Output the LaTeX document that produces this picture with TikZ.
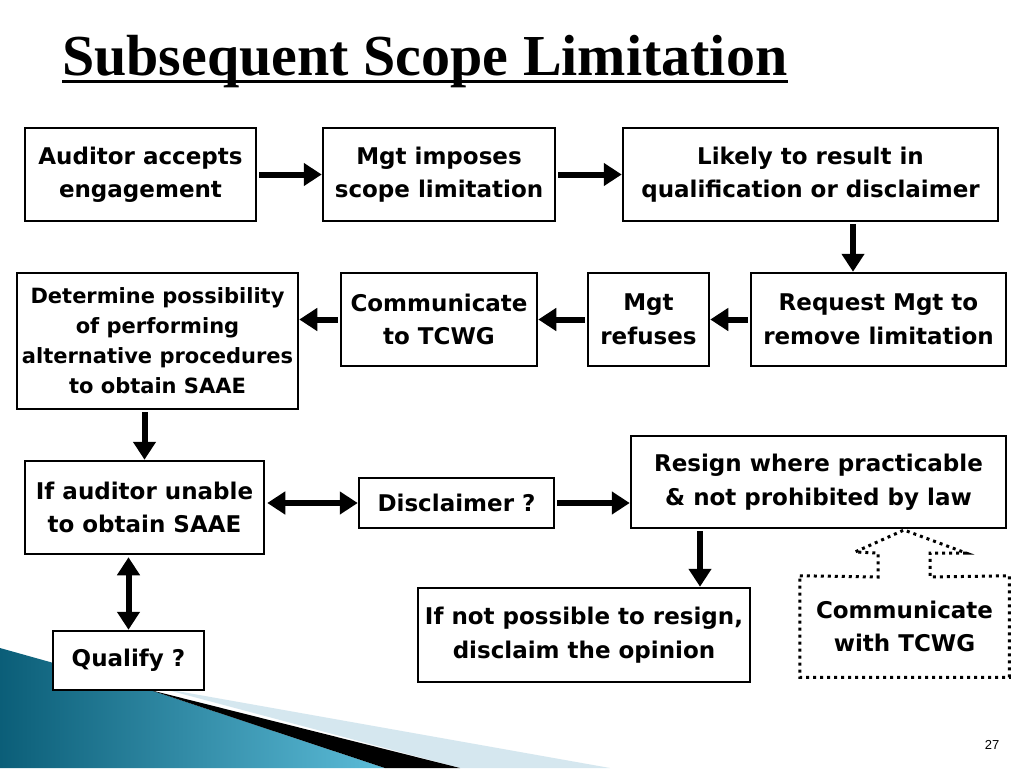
\documentclass[tikz,border=0pt]{standalone}
\usepackage{fontspec}
\setmainfont{DejaVu Sans}
\newfontfamily\titlefont{Liberation Serif}
\newfontfamily\pagefont{Liberation Sans}
\usetikzlibrary{arrows.meta}
\definecolor{tealdark}{HTML}{0B5E78}
\definecolor{teallight}{HTML}{5CBCD8}
\definecolor{paleblue}{HTML}{D5E7EF}
\tikzset{
  box/.style={draw, line width=2.5pt, fill=white, align=center, inner sep=0pt, font=\bfseries\fontsize{23}{33.5}\selectfont},
  dotbox/.style={line width=3pt, dash pattern=on 3pt off 4pt},
  flow/.style={line width=6pt, shorten <=2pt, -{Triangle[length=18pt,width=22pt]}},
  flowboth/.style={line width=6pt, shorten <=2pt, {Triangle[length=18pt,width=22pt]}-{Triangle[length=18pt,width=22pt]}},
}
\newcommand{\flowbox}[6]{\node[box, minimum width=#4pt, minimum height=#5pt] (#1) at (#2,#3) {#6};}
\newcommand{\link}[2]{\draw[flow] (#1) -- (#2);}
\newcommand{\linkboth}[2]{\draw[flowboth] (#1) -- (#2);}

\begin{document}
\begin{tikzpicture}[x=1pt,y=-1pt]
    \useasboundingbox[fill=white] (0,0) rectangle (1024,768);
    % corner swoosh
    \shade[left color=tealdark, right color=teallight] (0,648) -- (150,690) -- (385,768) -- (0,768) -- cycle;
    \fill[paleblue] (160,688) -- (610,768) -- (460,768) -- cycle;
    \fill[black] (150,690) -- (460,768) -- (385,768) -- cycle;
    % title
    \node[anchor=base west, inner sep=0pt, font=\titlefont\bfseries\fontsize{58}{60}\selectfont] (title) at (62,75) {Subsequent Scope Limitation};
    \draw[line width=3pt] ([yshift=-6pt]title.base west) -- ([yshift=-6pt]title.base east);
    \node[font=\pagefont\fontsize{13}{14}\selectfont] (page) at (992,745) {27};

    \flowbox{a1}{140.5}{174.5}{231}{93}{Auditor accepts\\engagement}
    \flowbox{a2}{439}{174.5}{232}{93}{Mgt imposes\\scope limitation}
    \flowbox{a3}{810.5}{174.5}{375}{93}{Likely to result in\\qualification or disclaimer}
    \flowbox{a4}{878.5}{319.5}{255}{93}{Request Mgt to\\remove limitation}
    \flowbox{a5}{648.5}{319.5}{121}{93}{Mgt\\refuses}
    \flowbox{a6}{439}{319.5}{196}{93}{Communicate\\to TCWG}
    \node[box, font=\bfseries\fontsize{21}{30}\selectfont, minimum width=281pt, minimum height=136pt] (a7) at (157.5,341) {Determine possibility\\of performing\\alternative procedures\\to obtain SAAE};
    \flowbox{a8}{144.5}{507.5}{239}{93}{If auditor unable\\to obtain SAAE}
    \flowbox{a9}{456.5}{503}{195}{50}{Disclaimer ?}
    \flowbox{a10}{818.5}{482}{375}{92}{Resign where practicable\\\& not prohibited by law}
    \flowbox{a11}{584}{635}{332}{94}{If not possible to resign,\\disclaim the opinion}
    \flowbox{a13}{128.5}{660.5}{151}{59}{Qualify ?}
    \node[box, draw=none, fill=none, minimum width=207pt, minimum height=99pt] (a12) at (904.5,626.5) {Communicate\\with TCWG};
    \draw[dotbox] (a12.north west) -- (878,577) -- (878,553) -- (855,552) -- (904,530) -- (966,553) -- (930,553) -- (930,577) -- (a12.north east) -- (a12.south east) -- (a12.south west) -- cycle;

    \link{a1}{a2}\link{a2}{a3}
    \link{[xshift=42.5pt]a3.south}{[xshift=-25.5pt]a4.north}
    \link{a4}{a5}\link{a5}{a6}\link{a6}{a6 -| a7.east}
    \link{a7.south -| a8}{a8}
    \linkboth{a9 -| a8.east}{a9}\link{a9}{a9 -| a10.west}
    \link{[xshift=-118.5pt]a10.south}{[xshift=116pt]a11.north}
    \linkboth{a8.south -| a13}{a13}
\end{tikzpicture}
\end{document}
